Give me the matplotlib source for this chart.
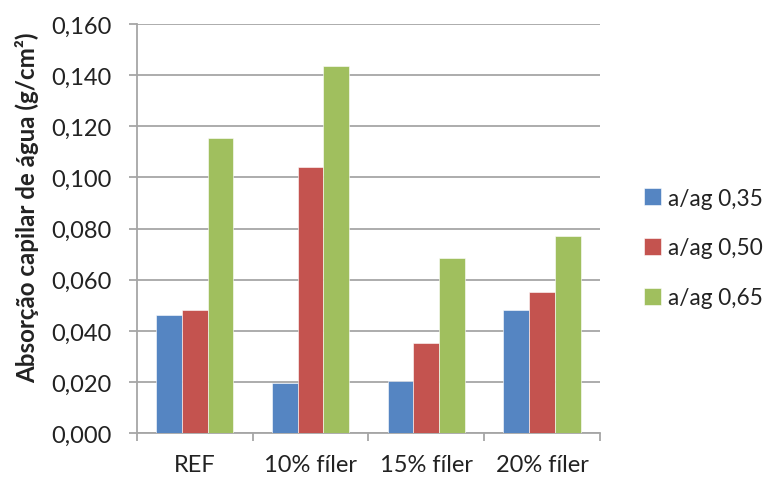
import numpy as np
import matplotlib.pyplot as plt
from matplotlib.ticker import FuncFormatter, FixedLocator

plt.rcParams['font.family'] = ['Lato', 'DejaVu Sans']

categories = ['REF', '10% fíler', '15% fíler', '20% fíler']
series_names = ['a/ag 0,35', 'a/ag 0,50', 'a/ag 0,65']
ag_035 = [0.0462, 0.0197, 0.0206, 0.0483]
ag_050 = [0.0481, 0.1041, 0.0354, 0.0551]
ag_065 = [0.1156, 0.1436, 0.0686, 0.0770]
colors = ['#5585C2', '#C4534F', '#A0BF5E']
text_color = '#222222'
grid_color = '#a6a6a6'

fig = plt.figure(figsize=(7.73, 4.81), dpi=100)
ax = fig.add_axes([0.1772, 0.0971, 0.5988, 0.8509])

x = np.arange(len(categories))
w = 0.222
for i, (vals, name) in enumerate(zip([ag_035, ag_050, ag_065], series_names)):
    ax.bar(x + (i - 1) * w, vals, width=w, color=colors[i], label=name,
           edgecolor='white', linewidth=0.4, zorder=3)

ax.set_xlim(-0.5, len(categories) - 0.5)
ax.set_ylim(0, 0.16)
ax.set_yticks(np.arange(0, 0.161, 0.02))
ax.yaxis.set_major_formatter(FuncFormatter(lambda v, p: f'{v:.3f}'.replace('.', ',')))
ax.grid(axis='y', color=grid_color, linewidth=1.3, zorder=0)

# category labels centred, tick marks on the group boundaries
ax.set_xticks(x)
ax.set_xticklabels(categories)
ax.xaxis.set_minor_locator(FixedLocator(np.arange(-0.5, len(categories), 1.0)))
ax.tick_params(axis='x', which='major', length=0, pad=15, labelsize=17, colors=text_color)
ax.tick_params(axis='x', which='minor', length=6, width=1.3, color=grid_color, direction='out')
ax.tick_params(axis='y', length=6, width=1.3, color=grid_color, pad=12, labelsize=17,
               labelcolor=text_color)

for s in ['top', 'right']:
    ax.spines[s].set_visible(False)
for s in ['left', 'bottom']:
    ax.spines[s].set_color(grid_color)
    ax.spines[s].set_linewidth(1.3)

fig.text(27 / 773, 1 - 208 / 481, 'Absorção capilar de água (g/cm²)', rotation=90,
         ha='center', va='center', fontsize=17.4, fontweight='bold', color=text_color)

ax.legend(loc='center left', bbox_to_anchor=(644 / 773, 1 - 249 / 481),
          bbox_transform=fig.transFigure, frameon=False, borderpad=0, borderaxespad=0,
          fontsize=16.3, handlelength=0.75, handleheight=0.75, labelspacing=1.28,
          handletextpad=0.3, labelcolor=text_color)

fig.savefig('out.png', dpi=100)
